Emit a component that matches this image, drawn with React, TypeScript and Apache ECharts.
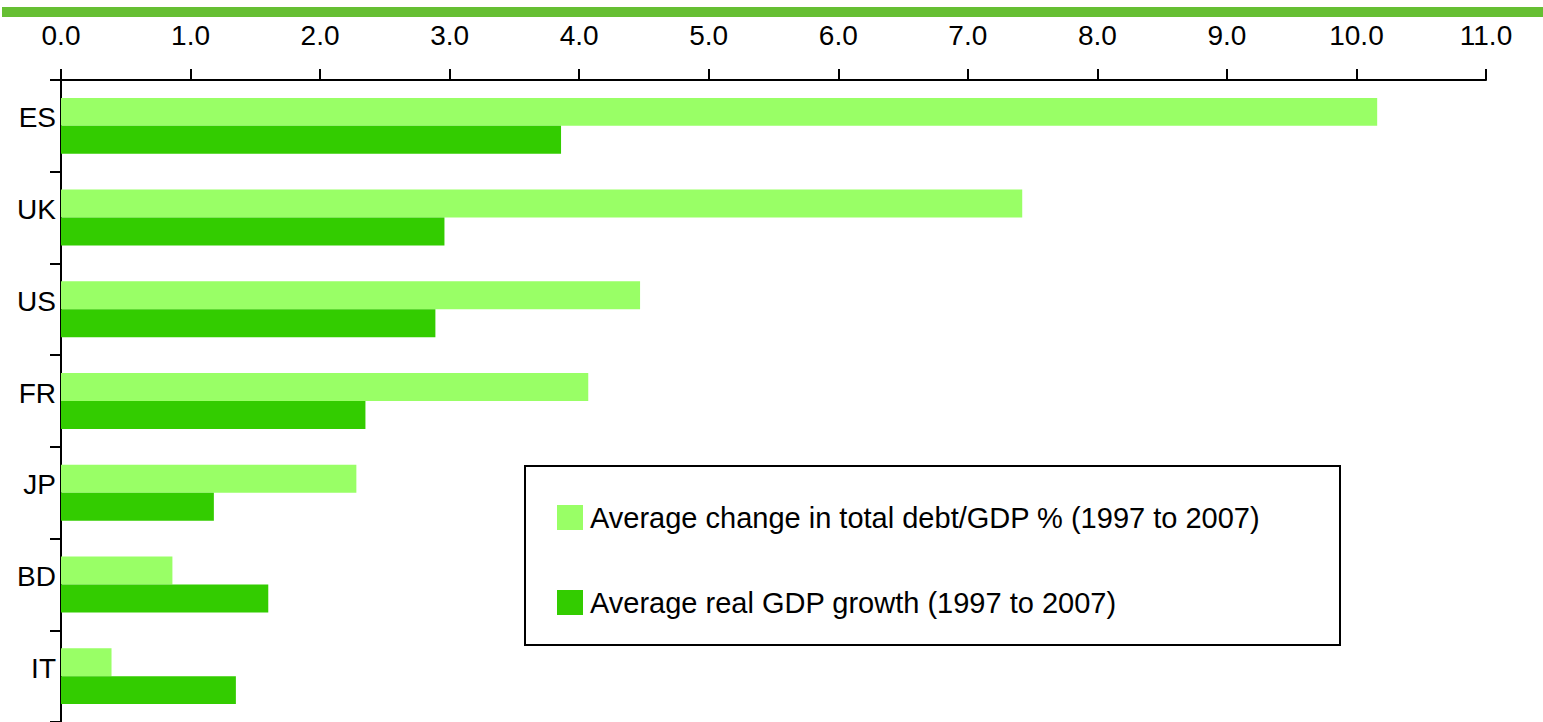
import React, { useEffect, useRef } from "react";
import * as echarts from "echarts";

const categories = ["ES", "UK", "US", "FR", "JP", "BD", "IT"];
const debtChange = [10.16, 7.42, 4.47, 4.07, 2.28, 0.86, 0.39];
const gdpGrowth = [3.86, 2.96, 2.89, 2.35, 1.18, 1.6, 1.35];
const seriesNames = [
  "Average change in total debt/GDP % (1997 to 2007)",
  "Average real GDP growth (1997 to 2007)",
];

const FONT = "'Liberation Sans', Arial, sans-serif";

export default function App() {
  const ref = useRef<HTMLDivElement>(null);
  useEffect(() => {
    if (!ref.current) return;
    const chart = echarts.init(ref.current, null, { renderer: "svg" });
    chart.setOption({
      animation: false,
      backgroundColor: "#ffffff",
      textStyle: { fontFamily: FONT },
      grid: { left: 61, right: 57, top: 80, height: 644 },
      graphic: [
        { type: "rect", shape: { x: 2, y: 7, width: 1541, height: 10 }, style: { fill: "#66bf33" } },
        {
          type: "rect",
          shape: { x: 525, y: 466, width: 815, height: 179 },
          style: { fill: "#ffffff", stroke: "#000000", lineWidth: 2 },
          z: 10,
        },
      ],
      legend: {
        orient: "vertical",
        left: 552,
        top: 498,
        itemWidth: 26,
        itemHeight: 25,
        itemGap: 56,
        icon: "rect",
        z: 20,
        textStyle: { fontFamily: FONT, fontSize: 29, color: "#000", lineHeight: 26, padding: [0, 0, 0, 2] },
        data: seriesNames,
      },
      xAxis: {
        type: "value",
        position: "top",
        min: 0,
        max: 11,
        interval: 1,
        splitLine: { show: false },
        axisLine: { show: true, lineStyle: { color: "#000", width: 2 } },
        axisTick: { show: true, length: 11, lineStyle: { color: "#000", width: 2 } },
        axisLabel: {
          margin: 31,
          fontFamily: FONT,
          fontSize: 28,
          color: "#000",
          formatter: (v: number) => v.toFixed(1),
        },
      },
      yAxis: {
        type: "category",
        inverse: true,
        data: categories,
        axisLine: { show: true, lineStyle: { color: "#000", width: 2 } },
        axisTick: { show: true, length: 11, alignWithLabel: false, lineStyle: { color: "#000", width: 2 } },
        axisLabel: {
          margin: 5,
          fontFamily: FONT,
          fontSize: 28,
          color: "#000",
          verticalAlign: "bottom",
          lineHeight: 16,
        },
      },
      series: [
        {
          name: seriesNames[0],
          type: "bar",
          data: debtChange,
          itemStyle: { color: "#99ff66" },
          barGap: "0%",
          barCategoryGap: "39%",
        },
        {
          name: seriesNames[1],
          type: "bar",
          data: gdpGrowth,
          itemStyle: { color: "#33cc00" },
          barGap: "0%",
          barCategoryGap: "39%",
        },
      ],
    });
    return () => chart.dispose();
  }, []);
  return <div ref={ref} style={{ width: 1543, height: 722, position: "absolute", left: 0, top: 0 }} />;
}
